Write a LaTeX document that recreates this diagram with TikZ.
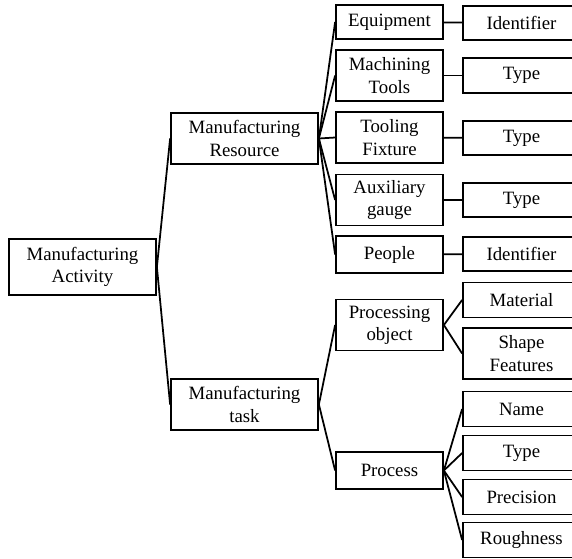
\documentclass[tikz,border=0pt]{standalone}
\usepackage{fontspec}
\setmainfont{Liberation Serif}
\tikzset{
  box/.style={draw, line width=1pt, align=center, inner sep=0pt,
              font=\fontsize{10.7}{12.6}\selectfont,
              minimum width=29.4mm, minimum height=10.2mm},
  midbox/.style={box, minimum width=21.4mm},
  leafbox/.style={box, minimum width=23.4mm, minimum height=7mm},
  link/.style={line width=1pt},
}

\begin{document}
\begin{tikzpicture}[x=0.2mm, y=-0.2mm]
    \useasboundingbox (0,0) rectangle (572,559);
    \clip (0,0) rectangle (572,559);
    % first and second level
    \node[box, minimum height=11.2mm] (act) at (82.5, 267) {Manufacturing\\Activity};
    \node[box] (res) at (244.5, 138.5) {Manufacturing\\Resource};
    \node[box] (task) at (244.5, 404.5) {Manufacturing\\task};
    % resources
    \node[midbox, minimum height=6.8mm] (equip) at (389.5, 22) {Equipment};
    \node[midbox] (tools) at (389.5, 75.5) {Machining\\Tools};
    \node[midbox] (fixture) at (389.5, 137.5) {Tooling\\Fixture};
    \node[midbox] (gauge) at (389.5, 200) {Auxiliary\\gauge};
    \node[midbox, minimum height=7.4mm] (people) at (389.5, 254.5) {People};
    % task
    \node[midbox] (pobj) at (389.5, 325) {Processing\\object};
    \node[midbox, minimum height=7.4mm] (proc) at (389.5, 470.5) {Process};
    % attributes
    \node[leafbox, minimum height=6.8mm] (equipid) at (521.5, 23) {Identifier};
    \node[leafbox] (toolstype) at (521.5, 75.5) {Type};
    \node[leafbox, minimum height=6.8mm] (fixturetype) at (521.5, 138) {Type};
    \node[leafbox, minimum height=6.8mm] (gaugetype) at (521.5, 200) {Type};
    \node[leafbox, minimum height=6.8mm] (peopleid) at (521.5, 254) {Identifier};
    \node[leafbox] (mat) at (521.5, 300) {Material};
    \node[leafbox, minimum height=10.2mm] (shape) at (521.5, 353.5) {Shape\\Features};
    \node[leafbox] (pname) at (521.5, 409) {Name};
    \node[leafbox] (ptype) at (521.5, 453) {Type};
    \node[leafbox] (prec) at (521.5, 497) {Precision};
    \node[leafbox] (rough) at (521.5, 540) {Roughness};
    % connectors
    \draw[link] (res.west) -- (act.east) -- (task.west);
    \foreach \c in {equip, tools, fixture, gauge, people}
      \draw[link] (res.east) -- (\c.west);
    \draw[link] (pobj.west) -- (task.east) -- (proc.west);
    \draw[link] (mat.west) -- (pobj.east) -- (shape.west);
    \foreach \c in {pname, ptype, prec, rough}
      \draw[link] (proc.east) -- (\c.west);
    \draw[link] (equip) -- (equipid);
    \draw[link] (tools) -- (toolstype);
    \draw[link] (fixture) -- (fixturetype);
    \draw[link] (gauge) -- (gaugetype);
    \draw[link] (people) -- (peopleid);
  \end{tikzpicture}
\end{document}
